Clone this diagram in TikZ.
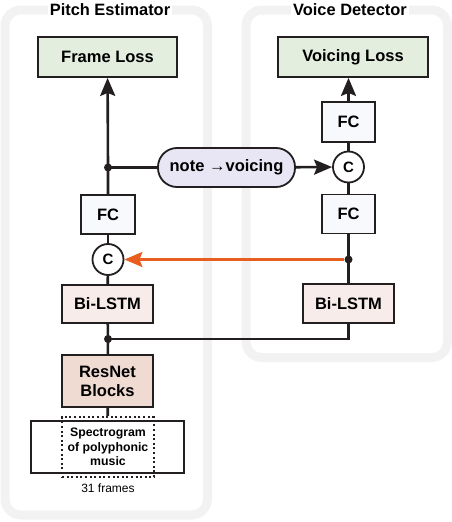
\documentclass[tikz,border=0pt]{standalone}
\usepackage{fontspec}
\setmainfont{Liberation Sans}
\usetikzlibrary{arrows.meta}

\definecolor{panelgray}{HTML}{F2F2F2}
\definecolor{lossgreen}{HTML}{E3EEDF}
\definecolor{fcblue}{HTML}{F7F9FC}
\definecolor{lstmpink}{HTML}{F8ECEA}
\definecolor{resnetpink}{HTML}{F0DBD3}
\definecolor{pilllilac}{HTML}{E8E6F4}
\definecolor{linedark}{HTML}{231F20}
\definecolor{feedorange}{HTML}{E85D20}

\begin{document}
\begin{tikzpicture}[x=1pt,y=-1pt,
	box/.style={draw=linedark,line width=1.8pt,align=center,inner sep=0pt,
		font=\fontsize{16.5}{19}\selectfont\bfseries},
	concat/.style={circle,draw=linedark,fill=white,line width=1.8pt,minimum size=31pt,inner sep=0pt,
		font=\fontsize{15}{18}\selectfont\bfseries},
	title/.style={fill=white,inner sep=2pt,font=\fontsize{16.4}{18}\selectfont\bfseries},
	panel/.style={draw=panelgray,line width=9pt,rounded corners=16pt},
	wire/.style={draw=linedark,line width=2.6pt},
	arr/.style={wire,-{Stealth[length=18pt,width=15pt,inset=3pt]}},
	dot/.style={circle,fill=linedark,inner sep=0pt,minimum size=8pt}]
		\useasboundingbox (0,0) rectangle (452,522);

		% panels
		\draw[panel] (5,10) rectangle (207.5,515);
		\draw[panel] (246,10) rectangle (447.5,357.5);
		\node[title] (pe) at (110,10) {Pitch Estimator};
		\node[title] (vd) at (350,10) {Voice Detector};

		% pitch estimator
		\node[box,fill=lossgreen,minimum width=139pt,minimum height=40pt] (floss) at (107.5,57) {Frame Loss};
		\node[box,fill=fcblue,minimum width=54pt,minimum height=39pt] (fcA) at (108,214.5) {FC};
		\node[concat] (cA) at (108,259.5) {C};
		\node[box,fill=lstmpink,minimum width=91pt,minimum height=38pt] (lstmA) at (107.5,304) {Bi-LSTM};
		\node[box,fill=resnetpink,minimum width=91pt,minimum height=52pt] (resnet) at (107.5,381) {ResNet\\Blocks};
		\node[draw=linedark,line width=1.8pt,minimum width=153pt,minimum height=52pt] (spec) at (107.5,447) {};
		\node[draw=linedark,line width=2pt,dash pattern=on 2pt off 2.6pt,minimum width=92pt,minimum height=60pt,align=center,inner sep=0pt,
			font=\fontsize{12.3}{14.5}\selectfont\bfseries] (specdots) at (108,447) {Spectrogram\\of polyphonic\\music};
		\node[font=\fontsize{12}{14}\selectfont] (frames) at (108,488) {31 frames};

		% voice detector
		\node[box,fill=lossgreen,minimum width=150pt,minimum height=40pt] (vloss) at (353,57) {Voicing Loss};
		\node[box,fill=fcblue,minimum width=53pt,minimum height=40pt] (fcB1) at (348.5,122) {FC};
		\node[concat] (cB) at (348.5,167) {C};
		\node[box,fill=fcblue,minimum width=53pt,minimum height=39pt] (fcB2) at (348.5,214) {FC};
		\node[box,fill=lstmpink,minimum width=91pt,minimum height=39pt] (lstmB) at (348.5,303.5) {Bi-LSTM};

		\node[box,fill=pilllilac,rounded corners=19pt,minimum width=137pt,minimum height=39pt] (pill) at (226.5,167.5) {note {\mdseries →}voicing};

		\node[dot] (jA) at (108,167.5) {};
		\node[dot] (jB) at (348.5,259.5) {};
		\node[dot] (jC) at (108,339) {};

		% connections
		\draw[arr] (fcA) -- (jA.center) -- (floss);
		\draw[wire] (jA.center) -- (pill);
		\draw[arr] (pill) -- (cB);
		\draw[wire] (fcA) -- (cA);
		\draw[wire] (cA) -- (lstmA);
		\draw[wire] (lstmA) -- (jC.center) -- (resnet);
		\draw[wire] (resnet) -- (specdots);
		\draw[wire] (lstmB) |- (jC.center);
		\draw[wire] (fcB2) -- (jB.center) -- (lstmB);
		\draw[wire] (fcB2) -- (cB);
		\draw[wire] (cB) -- (fcB1);
		\draw[arr] (fcB1.north) -- (fcB1.north |- vloss.south);
		\draw[arr,draw=feedorange] (jB.west) -- (cA);
\end{tikzpicture}
\end{document}
